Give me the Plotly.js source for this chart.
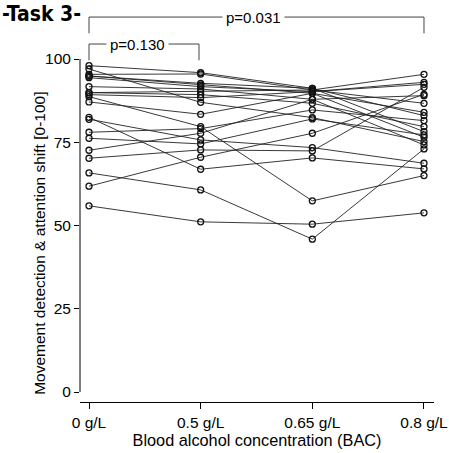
<!DOCTYPE html>
<html>
<head>
<meta charset="utf-8">
<script src="https://cdn.plot.ly/plotly-3.0.1.min.js"></script>
<style>html,body{margin:0;padding:0;background:#fff;}#chart{width:449px;height:453px;}</style>
</head>
<body>
<div id="chart"></div>
<script>
// BAC conditions (x categories)
var categories = ["0 g/L", "0.5 g/L", "0.65 g/L", "0.8 g/L"];
// Score of each participant at 0, 0.5, 0.65 and 0.8 g/L
var bac0   = [98.0, 97.0, 95.4, 94.9, 94.9, 94.4, 91.7, 89.9, 89.9, 89.3, 88.7, 87.1, 82.5, 81.9, 78.0, 76.2, 72.6, 70.2, 65.8, 61.8, 55.9];
var bac05  = [95.9, 87.0, 95.5, 92.7, 92.2, 91.7, 91.0, 90.2, 89.3, 88.4, 79.7, 83.4, 66.9, 75.7, 79.1, 74.5, 77.7, 72.7, 60.7, 70.5, 51.1];
var bac065 = [91.2, 82.4, 90.7, 91.2, 89.7, 90.2, 87.9, 90.7, 86.7, 90.2, 57.4, 89.7, 70.3, 73.4, 84.7, 82.0, 87.9, 72.4, 45.9, 77.7, 50.4];
var bac08  = [83.0, 75.2, 95.4, 78.2, 76.5, 93.0, 74.2, 86.7, 79.7, 92.4, 65.0, 84.0, 67.0, 68.7, 81.5, 77.2, 89.0, 91.5, 73.0, 89.4, 53.8];
var yTicks = [0, 25, 50, 75, 100];
var pLabels = ["p=0.031", "p=0.130"];

var xIdx = categories.map(function (c, i) { return i; });
var traces = [];
for (var s = 0; s < bac0.length; s++) {
  traces.push({
    type: "scatter",
    mode: "lines+markers",
    x: xIdx,
    y: [bac0[s], bac05[s], bac065[s], bac08[s]],
    line: {color: "#222", width: 0.9},
    marker: {symbol: "circle-open", size: 6, color: "#111", line: {width: 1.3, color: "#111"}},
    showlegend: false,
    hoverinfo: "skip",
    cliponaxis: false
  });
}

var lc = "#444";
var shapes = [
  {type: "line", xref: "paper", yref: "y", x0: 0, x1: 0, y0: 0, y1: 100, line: {color: "#000", width: 1}},
  {type: "line", xref: "x", yref: "y", x0: 0, x1: 3, y0: 112.6, y1: 112.6, line: {color: lc, width: 1}},
  {type: "line", xref: "x", yref: "y", x0: 0, x1: 0, y0: 112.6, y1: 107.7, line: {color: lc, width: 1}},
  {type: "line", xref: "x", yref: "y", x0: 3, x1: 3, y0: 112.6, y1: 107.7, line: {color: lc, width: 1}},
  {type: "line", xref: "x", yref: "y", x0: 0, x1: 0.985, y0: 104.5, y1: 104.5, line: {color: lc, width: 1}},
  {type: "line", xref: "x", yref: "y", x0: 0, x1: 0, y0: 104.5, y1: 99.6, line: {color: lc, width: 1}},
  {type: "line", xref: "x", yref: "y", x0: 0.985, x1: 0.985, y0: 104.5, y1: 99.6, line: {color: lc, width: 1}}
];

var annotations = [
  {text: pLabels[0], xref: "x", yref: "y", x: 1.47, y: 112.6, showarrow: false,
   font: {family: "Liberation Sans, Arial, sans-serif", size: 15, color: "#000"},
   bgcolor: "#fff", borderpad: 3},
  {text: pLabels[1], xref: "x", yref: "y", x: 0.43, y: 104.5, showarrow: false,
   font: {family: "Liberation Sans, Arial, sans-serif", size: 15, color: "#000"},
   bgcolor: "#fff", borderpad: 3},
  {text: "-Task 3-", xref: "paper", yref: "paper", x: -80 / 354, y: 1.0, xanchor: "left", yanchor: "top",
   showarrow: false, font: {family: "DejaVu Sans Condensed, Liberation Sans Narrow, sans-serif", size: 21, color: "#000", weight: "bold"}},
  {text: "Movement detection & attention shift [0-100]", xref: "paper", yref: "y", x: -40 / 354, y: 44.5,
   textangle: -90, showarrow: false, xanchor: "center", yanchor: "middle",
   font: {family: "Liberation Sans, Arial, sans-serif", size: 15.5, color: "#000"}}
];

var layout = {
  width: 449, height: 453,
  margin: {l: 80, r: 15, t: 0, b: 51},
  paper_bgcolor: "#fff", plot_bgcolor: "#fff",
  font: {family: "Liberation Sans, Arial, sans-serif", size: 15, color: "#000"},
  xaxis: {
    range: [-0.0806, 3.0896], tickmode: "array", tickvals: xIdx, ticktext: categories,
    showline: true, linecolor: "#000", linewidth: 1, ticks: "outside", ticklen: 6, tickcolor: "#000",
    showgrid: false, zeroline: false, fixedrange: true,
    tickfont: {size: 15.5},
    title: {text: "Blood alcohol concentration (BAC)", font: {size: 16.3}, standoff: 4}
  },
  yaxis: {
    range: [-3.0, 117.72], tickmode: "array", tickvals: yTicks,
    showline: false, ticks: "outside", ticklen: 5, tickcolor: "#000",
    showgrid: false, zeroline: false, fixedrange: true,
    tickfont: {size: 15.5}
  },
  shapes: shapes,
  annotations: annotations
};

Plotly.newPlot("chart", traces, layout, {staticPlot: true, displayModeBar: false});
</script>
</body>
</html>
